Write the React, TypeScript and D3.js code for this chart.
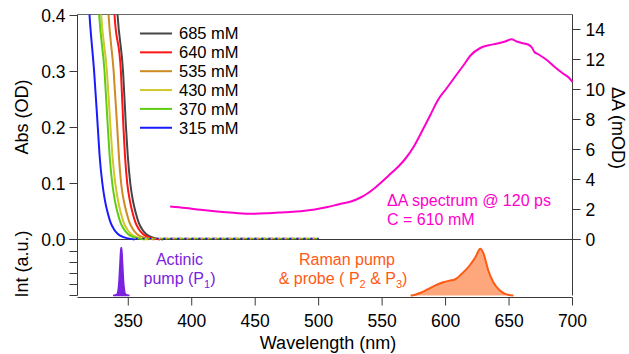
import * as d3 from 'd3'

// absorbance spectra (top panel, left axis)
const concLabels = ['685 mM', '640 mM', '535 mM', '430 mM', '370 mM', '315 mM']
const concColors = ['#454545', '#ff1414', '#cf8a22', '#cfc82a', '#5ecc12', '#1a1aff']
const absLevels = [0.5, 0.4, 0.3, 0.2, 0.15, 0.1, 0.07, 0.045, 0.03, 0.018, 0.01, 0.005, 0.002, 0]
const wl685 = [339.2, 341.6, 345.9, 348.2, 349.6, 351.6, 353.6, 356.2, 358.2, 361, 364, 367.5, 372, 377.5]
const wl640 = [336.9, 339.2, 344.2, 346.2, 347.4, 349.2, 351.2, 353.7, 355.7, 358.5, 361.5, 365, 369.5, 375]
const wl535 = [332.2, 334.5, 338.5, 341.3, 342.6, 344.4, 346.4, 349, 351, 353.8, 356.8, 360.4, 365, 370.5]
const wl430 = [326.3, 328.7, 333.2, 336, 337.5, 339.8, 341.9, 344.4, 346.4, 349.2, 352.2, 355.7, 360.2, 365.5]
const wl370 = [324.7, 327.1, 331.3, 333.9, 335.3, 337.4, 339.4, 341.9, 343.9, 346.7, 349.7, 353.2, 357.7, 363]
const wl315 = [317.1, 319.5, 323.1, 326, 327.4, 329.6, 331.6, 334.1, 336.1, 338.8, 341.8, 345.3, 349.8, 355]
const absWls = [wl685, wl640, wl535, wl430, wl370, wl315]
const tailEnd = 500

// transient absorption (right axis, mOD)
const daWl = [383, 395, 407, 420, 433, 447, 460, 473, 486, 497, 507, 516, 526, 533, 539, 544, 549, 555, 562, 568, 575, 581, 588, 594, 601, 607, 614, 620, 627, 634, 640, 647, 652, 656, 660, 665, 668, 670, 673, 680, 686, 692, 697, 700]
const daVal = [2.2, 2.1, 1.98, 1.87, 1.78, 1.71, 1.75, 1.82, 1.89, 2.0, 2.16, 2.35, 2.55, 2.8, 3.1, 3.42, 3.78, 4.25, 4.8, 5.35, 6.2, 7.15, 8.3, 9.3, 10.1, 10.8, 11.6, 12.3, 12.75, 12.95, 13.05, 13.2, 13.35, 13.2, 13.1, 13.0, 12.8, 12.5, 12.35, 11.95, 11.5, 11.1, 10.8, 10.5]

// pulse spectra (bottom panel)
const p1Wl = [338, 341, 342.5, 343.5, 344.2, 344.8, 345.5, 346.5, 348, 351]
const p1Int = [0, 0.02, 0.2, 0.6, 0.87, 0.87, 0.6, 0.2, 0.02, 0]
const p23Wl = [572.5, 576, 580.4, 585.7, 591.5, 598, 603, 607.3, 612.6, 619.1, 623.6, 627.3, 629.6, 633.6, 637.6, 642.8, 648, 653.4]
const p23Int = [0, 0.015, 0.05, 0.11, 0.18, 0.24, 0.27, 0.29, 0.39, 0.55, 0.7, 0.85, 0.78, 0.46, 0.24, 0.09, 0.02, 0]

const xTicks = [350, 400, 450, 500, 550, 600, 650, 700]
const absTicks = [0, 0.1, 0.2, 0.3, 0.4]
const daTicks = [0, 2, 4, 6, 8, 10, 12, 14]
const intTicks = [0, 0.2, 0.4, 0.6, 0.8]

const font = 'Arial, "Liberation Sans", Helvetica, sans-serif'
const axisColor = '#3a3a3a'
const magenta = '#ff00cc'
const purple = '#7a22e0'
const orange = '#ff5a14'

export default function App() {
  const width = 629
  const height = 354

  const x = d3.scaleLinear().domain([310, 700]).range([77.5, 572.5])
  const yAbs = d3.scaleLinear().domain([0, 0.4]).range([239.5, 15.5])
  const yDA = d3.scaleLinear().domain([0, 15]).range([239.5, 14.5])
  const yInt = d3.scaleLinear().domain([0, 1]).range([295.5, 240.5])

  const left = x.range()[0]
  const right = x.range()[1]
  const top = 14.5
  const bottom = 297.5

  const absLine = d3.line<[number, number]>()
    .x(d => x(d[0]))
    .y(d => yAbs(d[1]))
    .curve(d3.curveMonotoneX)

  const daLine = d3.line<number>()
    .x((_, i) => x(daWl[i]))
    .y(d => yDA(d))
    .curve(d3.curveMonotoneX)

  const intArea = (wls: number[]) => d3.area<number>()
    .x((_, i) => x(wls[i]))
    .y0(yInt(0))
    .y1(d => yInt(d))
    .curve(d3.curveMonotoneX)
  const intLine = (wls: number[]) => d3.line<number>()
    .x((_, i) => x(wls[i]))
    .y(d => yInt(d))
    .curve(d3.curveMonotoneX)

  return (
    <svg width={width} height={height} style={{ position: 'absolute', left: 0, top: 0, background: '#fff' }}
      fontFamily={font}>
      <defs>
        <clipPath id="topPanel">
          <rect x={left} y={top} width={right - left} height={yAbs(0) - top + 2} />
        </clipPath>
      </defs>

      {/* frame */}
      <line x1={left} x2={right} y1={top} y2={top} stroke="#6a6a6a" strokeWidth={1} />
      <line x1={left} x2={left} y1={top} y2={yInt(0)} stroke={axisColor} />
      <line x1={right} x2={right} y1={top} y2={yInt(0)} stroke={axisColor} />
      <line x1={left - 8} x2={right + 8} y1={yAbs(0)} y2={yAbs(0)} stroke={axisColor} />
      <line x1={left} x2={right} y1={bottom} y2={bottom} stroke={axisColor} />

      {/* left ticks: absorbance */}
      {absTicks.map(t => (
        <g key={'a' + t}>
          <line x1={left - 8} x2={left} y1={yAbs(t)} y2={yAbs(t)} stroke={axisColor} />
          <text x={left - 12} y={yAbs(t)} dy="0.36em" textAnchor="end" fontSize={17.5}>{t.toFixed(1)}</text>
        </g>
      ))}
      {/* left ticks: intensity */}
      {intTicks.map(t => (
        <line key={'i' + t} x1={left - 8} x2={left} y1={yInt(t)} y2={yInt(t)} stroke={axisColor} />
      ))}
      {/* right ticks: delta A */}
      {daTicks.map(t => (
        <g key={'d' + t}>
          <line x1={right} x2={right + 8} y1={yDA(t)} y2={yDA(t)} stroke={axisColor} />
          <text x={right + 13} y={yDA(t)} dy="0.36em" fontSize={17.5}>{t}</text>
        </g>
      ))}
      {/* bottom ticks */}
      {xTicks.map(t => (
        <g key={'x' + t}>
          <line x1={x(t)} x2={x(t)} y1={bottom} y2={bottom + 8} stroke={axisColor} />
          <text x={x(t)} y={327} textAnchor="middle" fontSize={17.5}>{t}</text>
        </g>
      ))}

      {/* axis titles */}
      <text transform="translate(28,117) rotate(-90)" textAnchor="middle" fontSize={18}>Abs (OD)</text>
      <text transform="translate(28,264) rotate(-90)" textAnchor="middle" fontSize={18}>Int (a.u.)</text>
      <text transform="translate(612,128) rotate(90)" textAnchor="middle" fontSize={18}>ΔA (mOD)</text>
      <text x={328} y={349} textAnchor="middle" fontSize={18}>Wavelength (nm)</text>

      {/* absorbance spectra */}
      <g clipPath="url(#topPanel)" fill="none" strokeWidth={2}>
        {absWls.map((wls, i) => (
          <g key={concLabels[i]} stroke={concColors[i]}>
            <path d={absLine(wls.map((w, j) => [w, absLevels[j]] as [number, number])) || ''} />
            <line x1={x(wls[wls.length - 1])} x2={x(tailEnd)} y1={yAbs(0) - 1} y2={yAbs(0) - 1}
              strokeDasharray="2 5" strokeDashoffset={i * 1.2} strokeWidth={1.6} />
          </g>
        ))}
      </g>

      {/* delta A spectrum */}
      <path d={daLine(daVal) || ''} fill="none" stroke={magenta} strokeWidth={2} />

      {/* legend */}
      {concLabels.map((lab, i) => {
        const ly = 33.5 + i * 18.85
        return (
          <g key={'l' + lab}>
            <line x1={140} x2={172} y1={ly} y2={ly} stroke={concColors[i]} strokeWidth={2} />
            <text x={179} y={ly} dy="0.36em" fontSize={16.5}>{lab}</text>
          </g>
        )
      })}

      {/* annotations */}
      <text x={387} y={206} fontSize={16} fill={magenta}>ΔA spectrum @ 120 ps</text>
      <text x={387} y={225} fontSize={16} fill={magenta}>C = 610 mM</text>

      {/* pulse spectra */}
      <path d={intArea(p1Wl)(p1Int) || ''} fill={purple} stroke={purple} strokeWidth={1.5} />
      <path d={intArea(p23Wl)(p23Int) || ''} fill="#ffa77c" stroke="none" />
      <path d={intLine(p23Wl)(p23Int) || ''} fill="none" stroke={orange} strokeWidth={2} />

      <text x={179.5} y={265} textAnchor="middle" fontSize={16} fill={purple}>Actinic</text>
      <text x={179.5} y={284} textAnchor="middle" fontSize={16} fill={purple}>
        pump (P<tspan fontSize={11} dy={4}>1</tspan><tspan dy={-4}>)</tspan>
      </text>
      <text x={347} y={265} textAnchor="middle" fontSize={16} fill={orange}>Raman pump</text>
      <text x={343} y={284} textAnchor="middle" fontSize={16} fill={orange}>
        &amp; probe ( P<tspan fontSize={11} dy={4}>2</tspan><tspan dy={-4}> &amp; P</tspan><tspan fontSize={11} dy={4}>3</tspan><tspan dy={-4}>)</tspan>
      </text>
    </svg>
  )
}
